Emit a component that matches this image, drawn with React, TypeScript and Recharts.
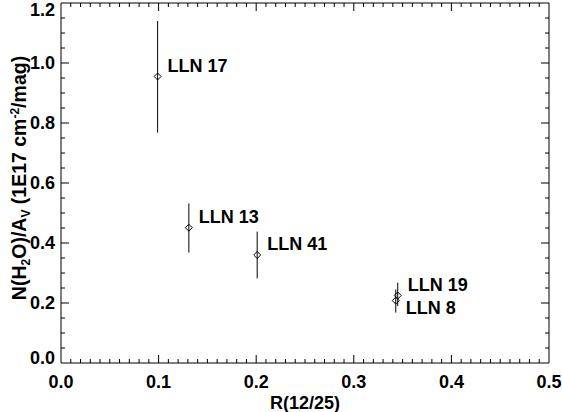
import React from 'react';
import { ComposedChart, Scatter, XAxis, YAxis, ErrorBar, ReferenceLine, ReferenceArea } from 'recharts';

// Data
const names = ['LLN 17', 'LLN 13', 'LLN 41', 'LLN 19', 'LLN 8'];
const ratio = [0.099, 0.131, 0.201, 0.345, 0.343];
const nh2oAv = [0.955, 0.451, 0.36, 0.225, 0.208];
const errLow = [0.768, 0.368, 0.282, 0.19, 0.168];
const errHigh = [1.14, 0.532, 0.438, 0.268, 0.245];
const labelBelow = [false, false, false, false, true];

const xTicks = [0, 0.1, 0.2, 0.3, 0.4, 0.5];
const yTicks = [0, 0.2, 0.4, 0.6, 0.8, 1.0, 1.2];

const data = names.map((n, i) => ({
  name: n,
  x: ratio[i],
  y: nh2oAv[i],
  err: [nh2oAv[i] - errLow[i], errHigh[i] - nh2oAv[i]],
  below: labelBelow[i],
}));

const FONT = '"Liberation Sans", Arial, Helvetica, sans-serif';
const X_MAX = 0.5;
const Y_MAX = 1.2;
// tick lengths in data units (plot is 488px x 360px)
const xUnitPerPx = X_MAX / 488;
const yUnitPerPx = Y_MAX / 360;

const round = (v: number) => Math.round(v * 1000) / 1000;
const xMinor: number[] = [];
for (let i = 1; i < 50; i++) if (i % 10 !== 0) xMinor.push(round(i * 0.01));
const yMinor: number[] = [];
for (let i = 1; i < 24; i++) if (i % 4 !== 0) yMinor.push(round(i * 0.05));

const DiamondShape = (props: any) => {
  const { cx, cy, payload } = props;
  if (cx == null || cy == null) return null;
  const r = 3.5;
  const ty = payload.below ? cy + 7 : cy - 11;
  return (
    <g>
      <polygon
        points={`${cx},${cy - r} ${cx + r},${cy} ${cx},${cy + r} ${cx - r},${cy}`}
        fill="none"
        stroke="#000"
        strokeWidth={1}
      />
      <text x={cx + 10} y={ty} dy="0.35em" fontFamily={FONT} fontWeight="bold" fontSize={18} fill="#000">
        {payload.name}
      </text>
    </g>
  );
};

const XTick = (props: any) => {
  const { x, y, payload } = props;
  return (
    <text x={x} y={y} dy="0.35em" textAnchor="middle" fontFamily={FONT} fontWeight="bold" fontSize={18} fill="#000">
      {Number(payload.value).toFixed(1)}
    </text>
  );
};

const YTick = (props: any) => {
  const { x, y, payload } = props;
  const yy = Math.min(Math.max(y, 10), 358);
  return (
    <text x={x} y={yy} dy="0.35em" textAnchor="end" fontFamily={FONT} fontWeight="bold" fontSize={18} fill="#000">
      {Number(payload.value).toFixed(1)}
    </text>
  );
};

const XTitle = (props: any) => {
  const vb = props.viewBox || {};
  return (
    <text x={vb.x + vb.width / 2} y={vb.y + 40} dy="0.35em" textAnchor="middle" fontFamily={FONT} fontWeight="bold" fontSize={18} fill="#000">
      R(12/25)
    </text>
  );
};

const YTitle = (props: any) => {
  const vb = props.viewBox || {};
  const cx = (vb.x ?? 0) + 19;
  const cy = (vb.y ?? 0) + 175;
  return (
    <text
      x={cx}
      y={cy}
      dy="0.35em"
      textAnchor="middle"
      transform={`rotate(-90 ${cx} ${cy})`}
      fontFamily={FONT}
      fontWeight="bold"
      fontSize={19.5}
      fill="#000"
    >
      <tspan>N(H</tspan>
      <tspan fontSize={12} dy="4">2</tspan>
      <tspan dy="-4">O)/A</tspan>
      <tspan fontSize={12} dy="4">V</tspan>
      <tspan dy="-4"> (1E17 cm</tspan>
      <tspan fontSize={12} dy="-7">-2</tspan>
      <tspan dy="7">/mag)</tspan>
    </text>
  );
};

export default function App() {
  const majorLenY = 8 * yUnitPerPx;
  const minorLenY = 4 * yUnitPerPx;
  const majorLenX = 8 * xUnitPerPx;
  const minorLenX = 4 * xUnitPerPx;

  const tickLines: React.ReactNode[] = [];
  xTicks.slice(1, -1).forEach((v) => {
    tickLines.push(<ReferenceLine key={`xb${v}`} segment={[{ x: v, y: 0 }, { x: v, y: majorLenY }]} stroke="#000" />);
    tickLines.push(<ReferenceLine key={`xt${v}`} segment={[{ x: v, y: Y_MAX }, { x: v, y: Y_MAX - majorLenY }]} stroke="#000" />);
  });
  xMinor.forEach((v) => {
    tickLines.push(<ReferenceLine key={`xbm${v}`} segment={[{ x: v, y: 0 }, { x: v, y: minorLenY }]} stroke="#000" />);
    tickLines.push(<ReferenceLine key={`xtm${v}`} segment={[{ x: v, y: Y_MAX }, { x: v, y: Y_MAX - minorLenY }]} stroke="#000" />);
  });
  yTicks.slice(1, -1).forEach((v) => {
    tickLines.push(<ReferenceLine key={`yl${v}`} segment={[{ x: 0, y: v }, { x: majorLenX, y: v }]} stroke="#000" />);
    tickLines.push(<ReferenceLine key={`yr${v}`} segment={[{ x: X_MAX, y: v }, { x: X_MAX - majorLenX, y: v }]} stroke="#000" />);
  });
  yMinor.forEach((v) => {
    tickLines.push(<ReferenceLine key={`ylm${v}`} segment={[{ x: 0, y: v }, { x: minorLenX, y: v }]} stroke="#000" />);
    tickLines.push(<ReferenceLine key={`yrm${v}`} segment={[{ x: X_MAX, y: v }, { x: X_MAX - minorLenX, y: v }]} stroke="#000" />);
  });

  return (
    <div style={{ position: 'absolute', left: 0, top: 0, width: 562, height: 412, background: '#fff' }}>
      <ComposedChart width={562} height={412} margin={{ top: 3, right: 13, bottom: 0, left: 0 }}>
        <XAxis
          type="number"
          dataKey="x"
          domain={[0, X_MAX]}
          ticks={xTicks}
          allowDataOverflow
          axisLine={false}
          tickLine={false}
          tickSize={0}
          tickMargin={19}
          height={49}
          tick={<XTick />}
          label={<XTitle />}
        />
        <YAxis
          type="number"
          dataKey="y"
          domain={[0, Y_MAX]}
          ticks={yTicks}
          allowDataOverflow
          axisLine={false}
          tickLine={false}
          tickSize={0}
          tickMargin={6}
          width={61}
          tick={<YTick />}
          label={<YTitle />}
        />
        <ReferenceArea x1={0} x2={X_MAX} y1={0} y2={Y_MAX} fill="none" stroke="#000" strokeWidth={1} />
        {tickLines}
        <Scatter data={data} dataKey="y" shape={<DiamondShape />} isAnimationActive={false}>
          <ErrorBar dataKey="err" direction="y" width={0} stroke="#000" strokeWidth={1} isAnimationActive={false} />
        </Scatter>
      </ComposedChart>
    </div>
  );
}
